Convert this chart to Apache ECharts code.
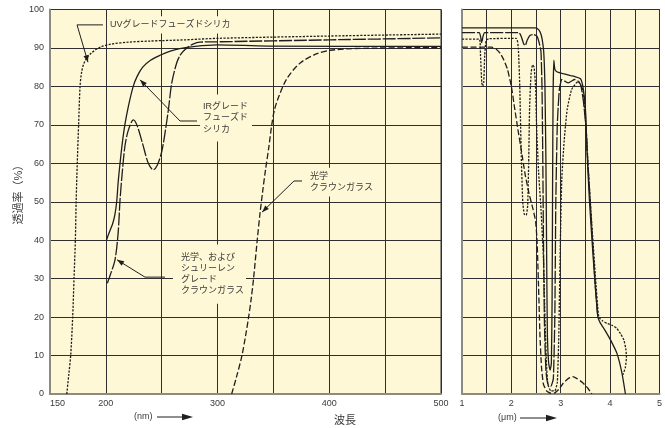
<!DOCTYPE html>
<html><head><meta charset="utf-8">
<script src="https://cdn.jsdelivr.net/npm/echarts/dist/echarts.min.js"></script>
<style>html,body{margin:0;padding:0;background:#fff}#c{width:665px;height:428px}</style>
</head><body><div id="c"></div>
<script>
// ---- tick labels ----
const nmTicks = [150, 200, 300, 400, 500];
const umTicks = [1, 2, 3, 4, 5];

// ---- left panel (wavelength nm, transmittance %) ----
const uvFusedNm = [[165,0],[166.8,5],[168.5,10],[170.3,20],[171.5,30],[172.7,40],[173.4,50],[174.4,60],[175.6,70],[176.9,80],[178.2,83.5],[180,85.7],[183,87.4],[187,88.7],[195,90.2],[205,91],[220,91.5],[240,91.8],[270,92.1],[300,92.5],[400,93.1],[500,93.6]];
const irFusedNm = [[200.5,40],[203,42],[206,44.2],[208,46.5],[209.7,50],[211,55],[212.7,60],[214.6,65],[217,70],[220.3,75],[224.5,80],[228,82.6],[233,85],[240,86.8],[248.5,88.1],[257,89.1],[266,89.8],[280,90.4],[299,90.8],[345,90.5],[500,90.4]];
const schlierenNm = [[201.3,28.8],[204,31],[208.2,34.9],[211,41.9],[212.7,50.5],[214.5,57],[217,64.3],[220,68.5],[224.6,71.3],[228,69.8],[233,65],[238,60],[242.5,58.3],[246,59.5],[250,63],[253,68],[256,74],[259,80.9],[263.4,86.1],[267,88.3],[272.4,90],[278,91],[284.3,91.5],[300,91.6],[400,92.1],[500,92.6]];
const crownNm = [[312.6,0],[317,4.5],[321.6,9.7],[325,15],[327.8,20],[330.2,25],[332.2,30],[335.5,40],[338,47],[340.5,53],[343,58.5],[345.8,64],[348.5,70],[351,74],[355,77.5],[362,82],[374,86.1],[389,88.5],[401,89.4],[428,89.9],[500,90.1]];

// ---- right panel (wavelength um, transmittance %) ----
const irFusedUm = [[1,95.2],[2.48,95.2],[2.53,95],[2.58,94.2],[2.62,92.5],[2.655,89],[2.68,80],[2.7,60],[2.715,35],[2.73,15],[2.755,8],[2.785,6.2],[2.81,8],[2.825,25],[2.835,55],[2.845,78],[2.86,86.8],[2.88,84.5],[2.92,83.8],[3.05,83.3],[3.2,82.8],[3.3,82.5],[3.4,82],[3.44,80.5],[3.48,77],[3.51,72],[3.53,63.5],[3.58,50.5],[3.66,35],[3.75,20.1],[3.8,18.5],[3.9,16.5],[4.01,14],[4.14,10.5],[4.24,5.4],[4.31,0]];
const schlierenUm = [[1,94],[1.35,94],[1.375,93],[1.4,91.3],[1.425,93],[1.46,94],[2.15,94],[2.2,93],[2.25,91],[2.28,90.6],[2.32,92],[2.38,93.3],[2.45,93.5],[2.52,93],[2.57,91],[2.6,89],[2.62,80],[2.635,63],[2.65,40],[2.67,18],[2.7,6],[2.74,2.5],[2.8,2],[2.85,4],[2.88,20],[2.9,50],[2.93,70],[2.97,79],[3.02,81.8],[3.09,81.3],[3.15,80.9],[3.22,81.4],[3.28,81.8],[3.36,81.3],[3.41,80.1],[3.46,76],[3.51,69.6],[3.55,60],[3.62,45],[3.7,28],[3.75,20.3]];
const uvFusedUm = [[1,92.3],[1.35,92.3],[1.375,88],[1.4,81],[1.42,80],[1.44,81],[1.46,88],[1.49,92],[1.55,92.4],[2.1,92.5],[2.14,90],[2.17,80],[2.2,62],[2.23,50],[2.26,46.8],[2.3,46.5],[2.33,49],[2.35,60],[2.37,75],[2.4,83.5],[2.43,85.6],[2.46,85],[2.49,80],[2.51,70],[2.55,58],[2.6,48],[2.65,35],[2.68,20],[2.71,8],[2.74,2.5],[2.8,0.8],[2.88,0.8],[2.93,3],[2.96,15],[2.99,38],[3.02,55.7],[3.07,66],[3.13,74],[3.22,79.2],[3.35,81.3],[3.45,79],[3.51,69.6],[3.56,58],[3.63,44],[3.7,31],[3.77,20],[3.85,19],[3.95,18.3],[4.05,17.8],[4.14,17],[4.22,15.5],[4.28,14],[4.32,11.5],[4.33,9.5],[4.31,7],[4.26,5]];
const crownUm = [[1,90.2],[1.6,90.2],[1.7,89.6],[1.78,88.5],[1.85,86.8],[1.92,84.5],[2.0,80],[2.07,74],[2.13,69],[2.2,63.5],[2.28,57],[2.36,52],[2.44,48],[2.49,45],[2.52,40],[2.55,28],[2.58,15],[2.61,7],[2.65,2.5],[2.72,0.7],[2.8,0.2],[2.88,0.3],[2.96,1.2],[3.05,2.8],[3.15,4],[3.24,4.5],[3.33,4],[3.44,3],[3.55,1.5],[3.63,0]];

// ---- annotation anchors (data coords of left panel) ----
const notes = [
  {text:'UVグレードフューズドシリカ', at:[201,96.0], pad:[3,3,3,3], leader:[[197.4,96.0],[174.2,96.0],[184.0,86.3]]},
  {text:'IRグレード\nフューズド\nシリカ', at:[284.3,71.8], pad:[5,4,8,3], leader:[[281.6,71.0],[266.4,71.0],[230.6,81.7]]},
  {text:'光学\nクラウンガラス', at:[380.1,55.1], pad:[4,3,2,3], leader:[[375.6,55.4],[368.4,55.4],[339.8,47.3]]},
  {text:'光学、および\nシュリーレン\nグレード\nクラウンガラス', at:[260.1,31.2], pad:[5,2,9,8], leader:[[252.9,30.4],[235.0,30.4],[210.0,34.9]]}
];

const BG = '#FFF8D6', GRIDC = '#2f2f2f', AXISC = '#8d8a80', INK = '#1e1e1e', TXT = '#3a3a3a';
const FONT = "'Liberation Sans','Noto Sans CJK JP',sans-serif";

const chart = echarts.init(document.getElementById('c'), null, {renderer:'canvas'});

function xAx(gi, min, max, interval, ticks, alignMin) {
  return {type:'value', gridIndex:gi, min, max, interval,
    axisLine:{show:true, onZero:false, lineStyle:{color:AXISC, width:2}},
    axisTick:{show:false},
    splitLine:{show:true, lineStyle:{color:GRIDC, width:1}},
    axisLabel:{formatter:v => ticks.includes(v) ? String(v) : '', color:TXT, fontSize:9, fontFamily:FONT, margin:5, alignMinLabel: alignMin ? 'left' : null}};
}
function yAx(gi, showLabel) {
  return {type:'value', gridIndex:gi, min:0, max:100, interval:10,
    axisLine:{show:true, onZero:false, lineStyle:{color:AXISC, width:2}},
    axisTick:{show:false},
    splitLine:{show:true, lineStyle:{color:GRIDC, width:1}},
    axisLabel:{show:showLabel, color:TXT, fontSize:9, fontFamily:FONT, margin:6}};
}
function ser(gi, data, type, smooth) {
  return {type:'line', xAxisIndex:gi, yAxisIndex:gi, data, showSymbol:false, symbol:'none', smooth:smooth,
    lineStyle:{color:INK, width:1.3, type:type}, silent:true, z:3};
}
const DOT = [2.2,1.4], DASH = [6,2.5], LONG = [13,1.8];

chart.setOption({
  animation:false,
  grid:[
    {left:50, top:9.5, width:391, height:384.5, show:true, backgroundColor:BG, borderColor:GRIDC, borderWidth:1},
    {left:462, top:9.5, width:201, height:384.5, show:true, backgroundColor:BG, borderColor:GRIDC, borderWidth:1}
  ],
  xAxis:[xAx(0,150,500,50,nmTicks,true), xAx(1,1,5,0.5,umTicks,false)],
  yAxis:[yAx(0,true), yAx(1,false)],
  series:[
    ser(0, uvFusedNm, DOT, 0.3),
    ser(0, irFusedNm, 'solid', 0.3),
    ser(0, schlierenNm, LONG, 0.3),
    ser(0, crownNm, DASH, 0.3),
    ser(1, irFusedUm, 'solid', 0.15),
    ser(1, schlierenUm, LONG, 0.15),
    ser(1, uvFusedUm, DOT, 0.15),
    ser(1, crownUm, DASH, 0.15)
  ]
});

function px(gi, p) { return chart.convertToPixel({xAxisIndex:gi, yAxisIndex:gi}, p); }
function head(tip, prev, len, hw) {
  const dx = tip[0]-prev[0], dy = tip[1]-prev[1], L = Math.hypot(dx,dy);
  const ux = dx/L, uy = dy/L, bx = tip[0]-ux*len, by = tip[1]-uy*len;
  return [tip, [bx - uy*hw, by + ux*hw], [bx + uy*hw, by - ux*hw]];
}
const g = [];
notes.forEach(n => {
  const p = px(0, n.at);
  g.push({type:'text', z:100, x:p[0], y:p[1], style:{text:n.text, fill:TXT, font:'9px ' + FONT,
    align:'left', verticalAlign:'middle', textAlign:'left', textVerticalAlign:'middle', lineHeight:11.3,
    backgroundColor:BG, padding:n.pad}});
  const pts = n.leader.map(q => px(0, q));
  g.push({type:'polyline', z:101, shape:{points:pts}, style:{stroke:INK, lineWidth:1, fill:null}});
  g.push({type:'polygon', z:101, shape:{points:head(pts[pts.length-1], pts[pts.length-2], 7, 2.6)}, style:{fill:INK}});
});
// axis titles
const b0 = px(0, [150, 0]);
g.push({type:'text', z:100, x:19, y:192, rotation:Math.PI/2, style:{text:'透過率（%）', fill:TXT, font:'11px ' + FONT, align:'center', verticalAlign:'middle', textAlign:'center', textVerticalAlign:'middle'}});
g.push({type:'text', z:100, x:345, y:b0[1]+27, style:{text:'波長', fill:TXT, font:'11px ' + FONT, align:'center', verticalAlign:'middle', textAlign:'center', textVerticalAlign:'middle'}});
function unitArrow(label, lx, x1, x2, y) {
  g.push({type:'text', z:100, x:lx, y:y, style:{text:label, fill:TXT, font:'9px ' + FONT, align:'left', verticalAlign:'middle', textAlign:'left', textVerticalAlign:'middle'}});
  g.push({type:'line', z:100, shape:{x1:x1, y1:y, x2:x2-8, y2:y}, style:{stroke:INK, lineWidth:1}});
  g.push({type:'polygon', z:100, shape:{points:head([x2,y],[x1,y],11,3.3)}, style:{fill:INK}});
}
unitArrow('(nm)', 134, 157, 193, b0[1]+23);
unitArrow('(μm)', 498, 520, 557, b0[1]+24);
chart.setOption({graphic:g});
</script>
</body></html>
